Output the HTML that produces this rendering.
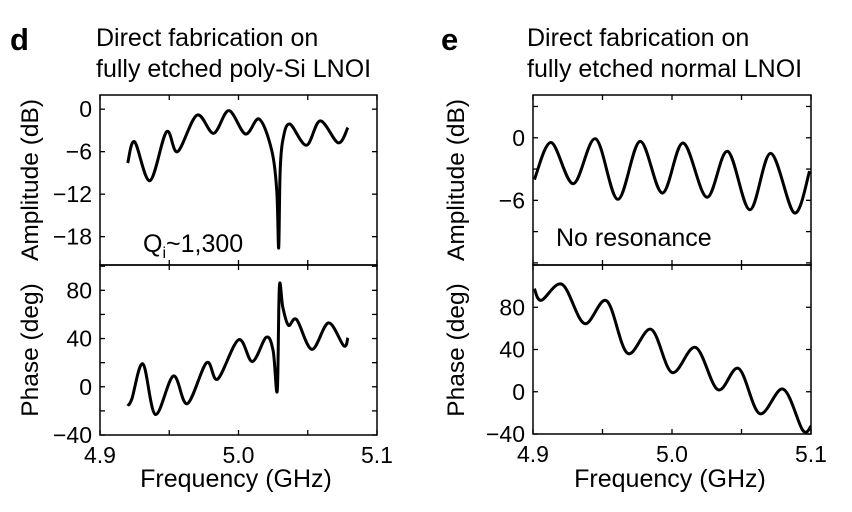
<!DOCTYPE html>
<html><head><meta charset="utf-8"><style>
body{margin:0;background:#fff}
svg{display:block;font-family:"Liberation Sans",Arial,sans-serif}
</style></head><body>
<svg id="c" width="852" height="512" viewBox="0 0 852 512"></svg>
<script>
const freqAmpL=[4.920,4.925,4.936,4.948,4.956,4.970,4.982,4.993,5.005,5.015,5.024,5.0276,5.029,5.030,5.032,5.037,5.049,5.059,5.072,5.079];
const ampL=[-7.6,-4.6,-10.1,-3.2,-6.0,-0.85,-3.4,-0.2,-3.5,-1.4,-5.8,-11.4,-19.6,-9,-4.4,-2.1,-5.1,-1.65,-4.75,-2.6];
const freqPhL=[4.920,4.923,4.931,4.940,4.953,4.963,4.977,4.985,5.000,5.010,5.020,5.025,5.028,5.0295,5.032,5.036,5.042,5.053,5.065,5.076,5.079];
const phL=[-15.8,-10,19,-23,9,-14,20,6.4,39,21,41,30,-3,83,66,51,55.6,31,53,34,40.6];
const freqAmpR=[4.901,4.913,4.929,4.945,4.961,4.977,4.993,5.008,5.025,5.040,5.056,5.071,5.088,5.099];
const ampR=[-4.0,-0.45,-4.4,-0.1,-5.9,-0.35,-5.3,-0.5,-5.7,-1.3,-6.9,-1.5,-7.2,-3.2];
const freqPhR=[4.901,4.906,4.921,4.937,4.953,4.968,4.985,5.000,5.017,5.033,5.048,5.063,5.080,5.094,5.100];
const phR=[97.6,86.6,101.6,64.6,86,36.4,59,18.2,42,1.9,22,-20.7,2.5,-36.4,-32.7];
const xTicks=[4.9,5.0,5.1];
const xTickLabels=["4.9","5.0","5.1"];
const ampLTicks=[0,-6,-12,-18];
const phLTicks=[80,40,0,-40];
const ampRTicks=[0,-6];
const phRTicks=[80,40,0,-40];

const svg=document.getElementById('c');
const NS='http://www.w3.org/2000/svg';
function el(t,a,txt){const e=document.createElementNS(NS,t);for(const k in a)e.setAttribute(k,a[k]);if(txt!==undefined)e.textContent=txt;svg.appendChild(e);return e;}
function lin(d0,d1,r0,r1){return v=>r0+(v-d0)/(d1-d0)*(r1-r0);}
function smooth(pts){let d='M'+pts[0][0].toFixed(1)+','+pts[0][1].toFixed(1);
 for(let i=0;i<pts.length-1;i++){const p0=pts[i-1]||pts[i],p1=pts[i],p2=pts[i+1],p3=pts[i+2]||p2;
  const c1=[p1[0]+(p2[0]-p0[0])/6,p1[1]+(p2[1]-p0[1])/6],c2=[p2[0]-(p3[0]-p1[0])/6,p2[1]-(p3[1]-p1[1])/6];
  d+='C'+c1.map(v=>v.toFixed(1))+' '+c2.map(v=>v.toFixed(1))+' '+p2[0].toFixed(1)+','+p2[1].toFixed(1);}
 return d;}
function panel(name,x0,x1,y0,y1,yMin,yMax,yTicks,minorStep,xs,ys,showX){
 const sx=lin(4.9,5.1,x0,x1), sy=lin(yMin,yMax,y1,y0);
 let r=el('rect',{x:x0,y:y0,width:x1-x0,height:y1-y0,fill:'none',stroke:'#000','stroke-width':1.5});
 
 for(const v of [4.9,4.95,5.0,5.05,5.1]){const x=sx(v);
  el('line',{x1:x,x2:x,y1:y1,y2:y1-5,stroke:'#000','stroke-width':1.3});
  el('line',{x1:x,x2:x,y1:y0,y2:y0+5,stroke:'#000','stroke-width':1.3});}
 for(let v=Math.ceil(yMin/minorStep)*minorStep;v<=yMax;v+=minorStep){const y=sy(v);
  el('line',{x1:x0,x2:x0+5,y1:y,y2:y,stroke:'#000','stroke-width':1.3});
  el('line',{x1:x1,x2:x1-5,y1:y,y2:y,stroke:'#000','stroke-width':1.3});}
 yTicks.forEach(v=>{const t=el('text',{x:x0-8,y:sy(v)+8,'text-anchor':'end','font-size':23},v<0?'\u2212'+(-v):String(v));
  });
 if(showX)xTicks.forEach((v,i)=>{const t=el('text',{x:sx(v),y:y1+28,'text-anchor':'middle','font-size':23},xTickLabels[i]);
  });
 const pts=xs.map((f,i)=>[sx(f),sy(ys[i])]);
 const p=el('path',{d:smooth(pts),fill:'none',stroke:'#000','stroke-width':3,'stroke-linejoin':'round'});
 
}
panel('left-amplitude',100,377,95,265,-22,2,ampLTicks,6,freqAmpL,ampL,false);
panel('left-phase',100,377,265,435,-40,101,phLTicks,20,freqPhL,phL,true);
panel('right-amplitude',533,811,95,265,-12.2,4.1,ampRTicks,3,freqAmpR,ampR,false);
panel('right-phase',533,811,265,434,-40,120,phRTicks,40,freqPhR,phR,true);

function txt(name,a,s){const t=el('text',a,s);return t;}
txt('panel-label-d',{x:10,y:50,'font-size':31,'font-weight':'bold'},'d');
txt('panel-label-e',{x:441,y:50,'font-size':31,'font-weight':'bold'},'e');
txt('title-left-line1',{x:96,y:46,'font-size':25},'Direct fabrication on');
txt('title-left-line2',{x:96,y:77,'font-size':25},'fully etched poly-Si LNOI');
txt('title-right-line1',{x:527,y:46,'font-size':25},'Direct fabrication on');
txt('title-right-line2',{x:527,y:77,'font-size':25},'fully etched normal LNOI');
txt('y-title-left-amplitude',{transform:'translate(38,180) rotate(-90)','text-anchor':'middle','font-size':24.5},'Amplitude (dB)');
txt('y-title-left-phase',{transform:'translate(38,350) rotate(-90)','text-anchor':'middle','font-size':24.5},'Phase (deg)');
txt('y-title-right-amplitude',{transform:'translate(464,180) rotate(-90)','text-anchor':'middle','font-size':24.5},'Amplitude (dB)');
txt('y-title-right-phase',{transform:'translate(464,350) rotate(-90)','text-anchor':'middle','font-size':24.5},'Phase (deg)');
txt('x-title-left',{x:236,y:487,'text-anchor':'middle','font-size':25},'Frequency (GHz)');
txt('x-title-right',{x:670,y:487,'text-anchor':'middle','font-size':25},'Frequency (GHz)');
const q=txt('q-annotation',{x:143,y:252,'font-size':25},'Q');
const sub=document.createElementNS(NS,'tspan');sub.setAttribute('font-size',16);sub.setAttribute('dy',6);sub.textContent='i';q.appendChild(sub);
const rest=document.createElementNS(NS,'tspan');rest.setAttribute('dy',-6);rest.textContent='~1,300';q.appendChild(rest);
txt('no-resonance-annotation',{x:556,y:246,'font-size':25},'No resonance');
</script>
</body></html>
